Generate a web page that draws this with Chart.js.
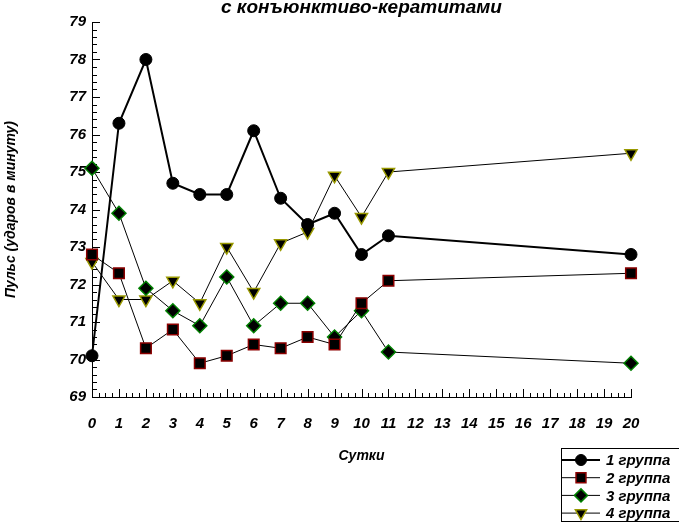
<!DOCTYPE html>
<html>
<head>
<meta charset="utf-8">
<script src="https://cdn.jsdelivr.net/npm/chart.js"></script>
<style>
  html, body { margin: 0; padding: 0; background: #fff; }
  #wrap { width: 679px; height: 523px; position: relative; }
</style>
</head>
<body>
<div id="wrap"><canvas id="pulse-chart" width="679" height="523"></canvas></div>
<script>
// Data
const days = [0, 1, 2, 3, 4, 5, 6, 7, 8, 9, 10, 11, 20]
const group1 = [70.1, 76.3, 78.0, 74.7, 74.4, 74.4, 76.1, 74.3, 73.6, 73.9, 72.8, 73.3, 72.8]
const group2 = [72.8, 72.3, 70.3, 70.8, 69.9, 70.1, 70.4, 70.3, 70.6, 70.4, 71.5, 72.1, 72.3]
const group3 = [75.1, 73.9, 71.9, 71.3, 70.9, 72.2, 70.9, 71.5, 71.5, 70.6, 71.3, 70.2, 69.9]
const group4 = [72.6, 71.6, 71.6, 72.1, 71.5, 73.0, 71.8, 73.1, 73.4, 74.9, 73.8, 75.0, 75.5]
const groupNames = ["1 группа", "2 группа", "3 группа", "4 группа"]
const xTicks = [0, 1, 2, 3, 4, 5, 6, 7, 8, 9, 10, 11, 12, 13, 14, 15, 16, 17, 18, 19, 20]
const yTicks = [69, 70, 71, 72, 73, 74, 75, 76, 77, 78, 79]
const chartTitle = "с конъюнктиво-кератитами"
const xTitle = "Сутки"
const yTitle = "Пульс (ударов в минуту)"

const FONT = '"Liberation Sans", Arial, sans-serif'
Chart.defaults.font.family = FONT
Chart.defaults.color = "#000"

const toPoints = (vals) => vals.map((v, i) => ({ x: days[i], y: v }))

// inward tick marks, major + minor
const tickMarks = {
  id: "tickMarks",
  beforeDatasetsDraw(chart) {
    const { ctx, chartArea: a, scales: { x, y } } = chart
    ctx.save()
    ctx.strokeStyle = "#000"
    ctx.lineWidth = 1
    ctx.beginPath()
    for (let i = 0; i <= 50; i++) {
      const py = Math.round(y.getPixelForValue(69 + i * 0.2)) + 0.5
      const len = i % 5 === 0 ? 8 : 5
      ctx.moveTo(a.left, py)
      ctx.lineTo(a.left + len, py)
    }
    for (let i = 0; i <= 80; i++) {
      const px = Math.round(x.getPixelForValue(i * 0.25)) + 0.5
      const len = i % 4 === 0 ? 8 : 4
      ctx.moveTo(px, a.bottom)
      ctx.lineTo(px, a.bottom - len)
    }
    ctx.stroke()
    ctx.restore()
  },
}

// cropped title at the top
const topTitle = {
  id: "topTitle",
  afterDraw(chart) {
    const { ctx, chartArea: a } = chart
    ctx.save()
    ctx.font = "italic bold 19px " + FONT
    ctx.fillStyle = "#000"
    ctx.textAlign = "center"
    ctx.textBaseline = "alphabetic"
    ctx.fillText(chartTitle, (a.left + a.right) / 2, 13)
    ctx.restore()
  },
}

// boxed legend in the lower right corner
const boxLegend = {
  id: "boxLegend",
  afterDraw(chart) {
    const { ctx } = chart
    const bx = 561, by = 448, rowH = 17.7
    ctx.save()
    ctx.strokeStyle = "#000"
    ctx.lineWidth = 1
    ctx.strokeRect(bx + 0.5, by + 0.5, 200, 73)
    chart.data.datasets.forEach((ds, i) => {
      const cy = by + 12 + i * rowH
      ctx.beginPath()
      ctx.lineWidth = ds.borderWidth
      ctx.strokeStyle = "#000"
      ctx.moveTo(bx + 1, cy)
      ctx.lineTo(bx + 39, cy)
      ctx.stroke()
      ctx.fillStyle = ds.pointBackgroundColor
      ctx.strokeStyle = ds.pointBorderColor
      ctx.lineWidth = ds.pointBorderWidth
      Chart.helpers.drawPoint(ctx, {
        pointStyle: ds.pointStyle,
        radius: ds.pointRadius - 0.5,
        rotation: ds.pointRotation || 0,
        borderWidth: ds.pointBorderWidth,
      }, bx + 20, cy)
      ctx.fillStyle = "#000"
      ctx.font = "italic bold 15px " + FONT
      ctx.textAlign = "left"
      ctx.textBaseline = "middle"
      ctx.fillText(ds.label, bx + 45, cy + 1)
    })
    ctx.restore()
  },
}

const ctx = document.getElementById("pulse-chart").getContext("2d")
new Chart(ctx, {
  type: "line",
  data: {
    datasets: [
      {
        label: groupNames[0],
        data: toPoints(group1),
        borderColor: "#000",
        borderWidth: 2,
        pointStyle: "circle",
        pointRadius: 6,
        pointBackgroundColor: "#000",
        pointBorderColor: "#000",
        pointBorderWidth: 1,
      },
      {
        label: groupNames[1],
        data: toPoints(group2),
        borderColor: "#000",
        borderWidth: 1,
        pointStyle: "rect",
        pointRadius: 7.5,
        pointBackgroundColor: "#000",
        pointBorderColor: "#8b0000",
        pointBorderWidth: 1.5,
      },
      {
        label: groupNames[2],
        data: toPoints(group3),
        borderColor: "#000",
        borderWidth: 1,
        pointStyle: "rectRot",
        pointRadius: 7,
        pointBackgroundColor: "#000",
        pointBorderColor: "#008000",
        pointBorderWidth: 1.5,
      },
      {
        label: groupNames[3],
        data: toPoints(group4),
        borderColor: "#000",
        borderWidth: 1,
        pointStyle: "triangle",
        pointRotation: 180,
        pointRadius: 7,
        pointBackgroundColor: "#000",
        pointBorderColor: "#999900",
        pointBorderWidth: 1.5,
      },
    ],
  },
  options: {
    responsive: false,
    animation: false,
    clip: false,
    layout: { padding: { top: 22, right: 48, left: 0, bottom: 0 } },
    plugins: {
      legend: { display: false },
      title: { display: false },
      tooltip: { enabled: false },
    },
    scales: {
      x: {
        type: "linear",
        min: 0,
        max: 20,
        afterFit: (s) => { s.height = 126 },
        afterBuildTicks: (s) => { s.ticks = xTicks.map((v) => ({ value: v })) },
        grid: { display: false, drawTicks: false },
        border: { display: true, color: "#000", width: 1 },
        ticks: {
          autoSkip: false,
          maxRotation: 0,
          padding: 18,
          font: { size: 15, style: "italic", weight: "bold" },
        },
        title: {
          display: true,
          text: xTitle,
          padding: { top: 0, bottom: 58 },
          font: { size: 14, style: "italic", weight: "bold" },
        },
      },
      y: {
        type: "linear",
        min: 69,
        max: 79,
        afterFit: (s) => { s.width = 92 },
        afterBuildTicks: (s) => { s.ticks = yTicks.map((v) => ({ value: v })) },
        grid: { display: false, drawTicks: false },
        border: { display: true, color: "#000", width: 1 },
        ticks: {
          padding: 6,
          font: { size: 15, style: "italic", weight: "bold" },
        },
        title: {
          display: true,
          text: yTitle,
          padding: { top: 3, bottom: 0 },
          font: { size: 14, style: "italic", weight: "bold" },
        },
      },
    },
  },
  plugins: [tickMarks, topTitle, boxLegend],
})
</script>
</body>
</html>
